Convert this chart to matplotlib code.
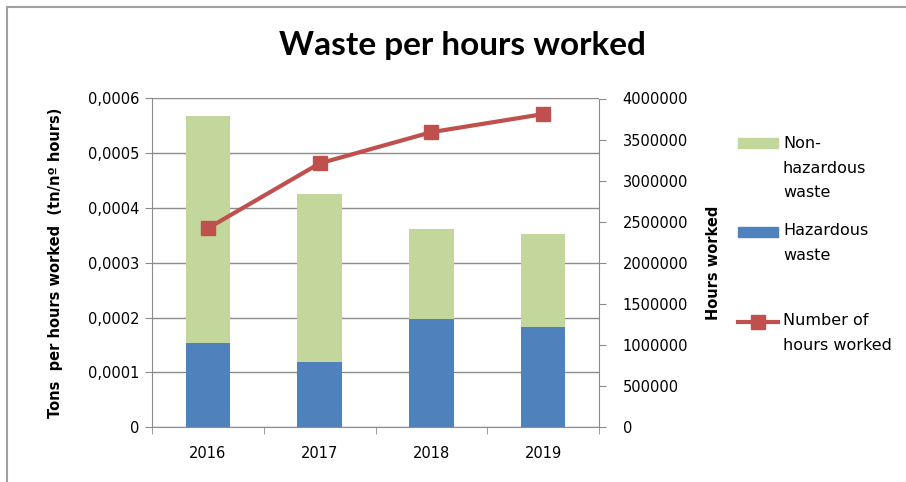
import matplotlib
matplotlib.use('Agg')
import matplotlib.pyplot as plt
from matplotlib.patches import Rectangle
from matplotlib.lines import Line2D
import numpy as np

plt.rcParams['font.family'] = ['DejaVu Sans']

# data
years = ['2016', '2017', '2018', '2019']
hazardous = [0.000154, 0.000119, 0.000198, 0.000182]
non_hazardous_total = [0.000568, 0.000426, 0.000361, 0.000353]
hours_worked = [2420000, 3210000, 3590000, 3810000]
non_hazardous = [t - h for t, h in zip(non_hazardous_total, hazardous)]

green = '#C3D69B'
blue = '#4F81BD'
red = '#C0504D'
grey = '#8C8C8C'

W, H = 906, 482
fig = plt.figure(figsize=(W / 100, H / 100), dpi=100)

# chart border (top + left only visible)
fig.add_artist(Line2D([7 / W, 7 / W], [0, 1 - 7 / H], color='#A0A0A0', lw=1.5))
fig.add_artist(Line2D([7 / W, 1], [1 - 7 / H, 1 - 7 / H], color='#A0A0A0', lw=1.5))

ax = fig.add_axes([152 / W, 1 - 427 / H, (599 - 152) / W, (427 - 98.5) / H])
x = np.arange(len(years))
ax.bar(x, hazardous, 0.4, color=blue, zorder=2)
ax.bar(x, non_hazardous, 0.4, bottom=hazardous, color=green, zorder=2)

ax.set_xlim(-0.5, 3.5)
ax.set_ylim(0, 0.0006)
ax.set_yticks(np.arange(0, 0.00061, 0.0001))
ax.set_yticklabels(['0'] + ['0,%04d' % i for i in range(1, 7)])
ax.yaxis.grid(True, color=grey, lw=1, zorder=0)
ax.set_xticks(x)
ax.set_xticklabels(years)
ax.set_xticks(np.arange(-0.5, 4, 1), minor=True)
ax.tick_params(axis='x', which='major', length=0, pad=14, labelsize=10.5)
ax.tick_params(axis='x', which='minor', length=5, color=grey, direction='out')
ax.tick_params(axis='y', length=5, color=grey, labelsize=10.5, pad=4)
for s in ['top', 'right']:
    ax.spines[s].set_visible(False)
for s in ['left', 'bottom']:
    ax.spines[s].set_color(grey)
ax.set_ylabel('Tons  per hours worked  (tn/nº hours)', fontsize=10.5,
              fontweight='bold', labelpad=18)

ax2 = ax.twinx()
ax2.plot(x, hours_worked, color=red, lw=3, marker='s', markersize=10, zorder=5)
ax2.set_ylim(0, 4000000)
ax2.set_yticks(np.arange(0, 4000001, 500000))
ax2.set_yticklabels([str(v) for v in range(0, 4000001, 500000)])
ax2.tick_params(axis='y', length=5, color=grey, labelsize=10.5, pad=12)
for s in ['top', 'left', 'bottom']:
    ax2.spines[s].set_visible(False)
ax2.spines['right'].set_color(grey)
ax2.set_ylabel('Hours worked', fontsize=10.5, fontweight='bold', labelpad=13)

fig.text(462 / W, 1 - 45 / H, 'Waste per hours worked', fontsize=24,
         fontweight='bold', family='Lato', ha='center', va='center')

# legend
def patch(y0, color):
    fig.add_artist(Rectangle((738 / W, 1 - (y0 + 10) / H), 40 / W, 10 / H,
                             color=color, transform=fig.transFigure))

patch(138, green)
patch(227, blue)
fig.add_artist(Line2D([738 / W, 778 / W], [1 - 322 / H, 1 - 322 / H], color=red,
                      lw=3, transform=fig.transFigure))
fig.add_artist(Line2D([758 / W], [1 - 322 / H], color=red, lw=0, marker='s',
                      markersize=10, transform=fig.transFigure))

def ltext(y, s):
    fig.text(783 / W, 1 - y / H, s, fontsize=11.5, va='top', ha='left',
             linespacing=1.8)

ltext(136, 'Non-\nhazardous\nwaste')
ltext(223, 'Hazardous\nwaste')
ltext(313, 'Number of\nhours worked')

fig.savefig('out.png', dpi=100)
